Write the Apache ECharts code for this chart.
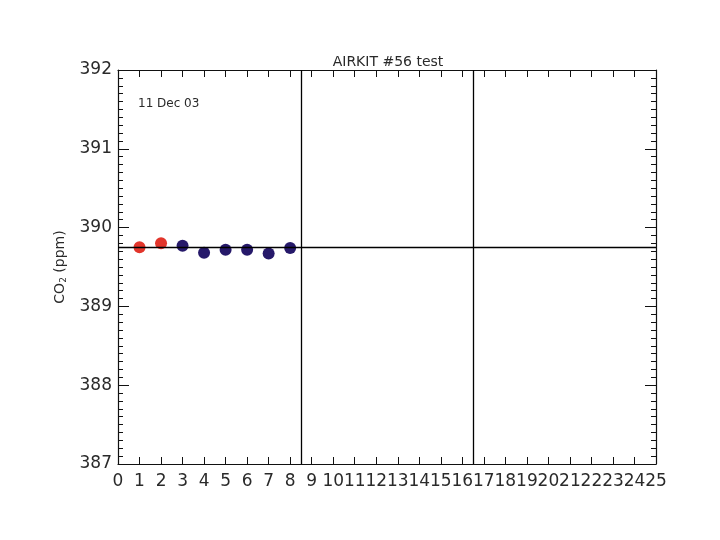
<!DOCTYPE html>
<html>
<head>
<meta charset="utf-8">
<script src="https://cdn.jsdelivr.net/npm/echarts@6/dist/echarts.min.js"></script>
<style>html,body{margin:0;padding:0;background:#fff}#c{width:720px;height:540px}</style>
</head>
<body>
<div id="c"></div>
<script>
// Data
const titleText = 'AIRKIT #56 test';
const dateNote = '11 Dec 03';
const redX = [1, 2];
const redY = [389.75, 389.80];
const blueX = [3, 4, 5, 6, 7, 8];
const blueY = [389.77, 389.68, 389.72, 389.72, 389.67, 389.74];
const dividersX = [8.5, 16.5];
const refLevel = 389.745;
const xMin = 0, xMax = 25;
const yMin = 387, yMax = 392;

const font = 'DejaVu Sans';
const txt = '#2a2a2a';
const pair = (xs, ys) => xs.map((x, i) => [x, ys[i]]);

const chart = echarts.init(document.getElementById('c'));
const axisLine = { show: true, onZero: false, lineStyle: { color: '#111', width: 1.2 } };
chart.setOption({
  animation: false,
  backgroundColor: '#fff',
  title: {
    text: titleText, left: 383, top: 50, textAlign: 'center',
    textStyle: { fontFamily: font, fontSize: 14, fontWeight: 'normal', color: txt }
  },
  graphic: [{
    type: 'text', left: 138, top: 98,
    style: { text: dateNote, font: '12px "DejaVu Sans"', fill: txt }
  }],
  grid: { left: 118, right: 64, top: 70, bottom: 76, containLabel: false },
  xAxis: [{
    type: 'value', min: xMin, max: xMax, interval: 1, position: 'bottom',
    axisLine, splitLine: { show: false },
    axisTick: { inside: true, length: 7, lineStyle: { color: '#111' } },
    axisLabel: { fontFamily: font, fontSize: 17, color: txt, margin: 9, showMinLabel: true, showMaxLabel: true }
  }, {
    type: 'value', min: xMin, max: xMax, interval: 1, position: 'top',
    axisLine, splitLine: { show: false },
    axisTick: { inside: true, length: 7, lineStyle: { color: '#111' } },
    axisLabel: { show: false }
  }],
  yAxis: [{
    type: 'value', min: yMin, max: yMax, interval: 1, position: 'left',
    name: '{a|CO}{b|2}{a| (ppm)}', nameLocation: 'middle', nameGap: 47, nameRotate: 90,
    nameTextStyle: { rich: { a: { fontFamily: font, fontSize: 14, color: txt }, b: { fontFamily: font, fontSize: 9, color: txt, verticalAlign: 'bottom', padding: [8, 0, 0, 0] } } },
    axisLine, splitLine: { show: false },
    axisTick: { inside: true, length: 11, lineStyle: { color: '#111' } },
    minorTick: { show: true, splitNumber: 10, length: 5, lineStyle: { color: '#111' } },
    axisLabel: { fontFamily: font, fontSize: 17, color: txt, margin: 6 }
  }, {
    type: 'value', min: yMin, max: yMax, interval: 1, position: 'right',
    axisLine, splitLine: { show: false },
    axisTick: { inside: true, length: 11, lineStyle: { color: '#111' } },
    minorTick: { show: true, splitNumber: 10, length: 5, lineStyle: { color: '#111' } },
    axisLabel: { show: false }
  }],
  series: [{
    type: 'scatter', data: [], silent: true,
    markLine: {
      silent: true, symbol: 'none', label: { show: false },
      lineStyle: { color: '#000', width: 1.3, type: 'solid' },
      data: [...dividersX.map(v => ({ xAxis: v })), { yAxis: refLevel }]
    }
  }, {
    type: 'scatter', data: pair(redX, redY), symbolSize: 12,
    itemStyle: { color: '#e2352b', opacity: 1 }
  }, {
    type: 'scatter', data: pair(blueX, blueY), symbolSize: 12,
    itemStyle: { color: '#26196a', opacity: 1 }
  }]
});
</script>
</body>
</html>
